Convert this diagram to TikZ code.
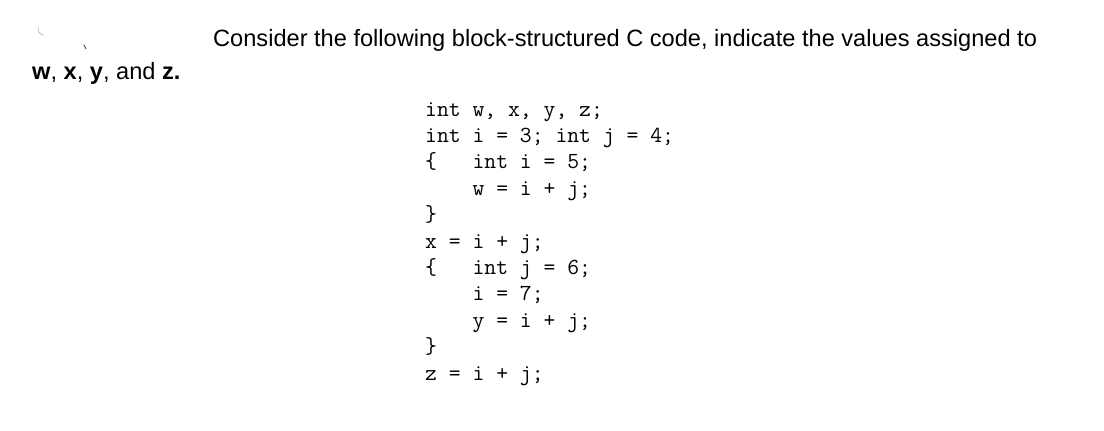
\documentclass[tikz,border=0pt]{standalone}
\usepackage{fontspec}
\setmainfont{Liberation Sans}
\setmonofont{Latin Modern Mono}
\begin{document}
\begin{tikzpicture}[x=1bp,y=-1bp,
  code/.style={anchor=base west,inner sep=0pt,font=\fontsize{23bp}{26bp}\ttfamily},
  prose/.style={anchor=base west,inner sep=0pt,font=\fontsize{23.6bp}{27bp}\selectfont}]
\useasboundingbox (0,0) rectangle (1104,430);
\draw[black!25,line width=0.8] (44,35) arc (90:200:6);
\draw[black!70,line width=1] (84,45) -- (86,49);
\node[prose] (t1) at (213,46) {Consider the following block-structured C code, indicate the values assigned to};
\node[prose] (t2) at (32,79) {\textbf{w}, \textbf{x}, \textbf{y}, and \textbf{z.}};
\foreach \t [count=\k from 0] in {
  {int w, x, y, z;},
  {int i = 3; int j = 4;},
  {\{\ \ \ int i = 5;},
  {\ \ \ \ w = i + j;},
  {\}},
  {x = i + j;},
  {\{\ \ \ int j = 6;},
  {\ \ \ \ i = 7;},
  {\ \ \ \ y = i + j;},
  {\}},
  {z = i + j;}}
  \node[code] (c\k) at (425,{116+26.4*\k}) {\t};
\end{tikzpicture}
\end{document}
